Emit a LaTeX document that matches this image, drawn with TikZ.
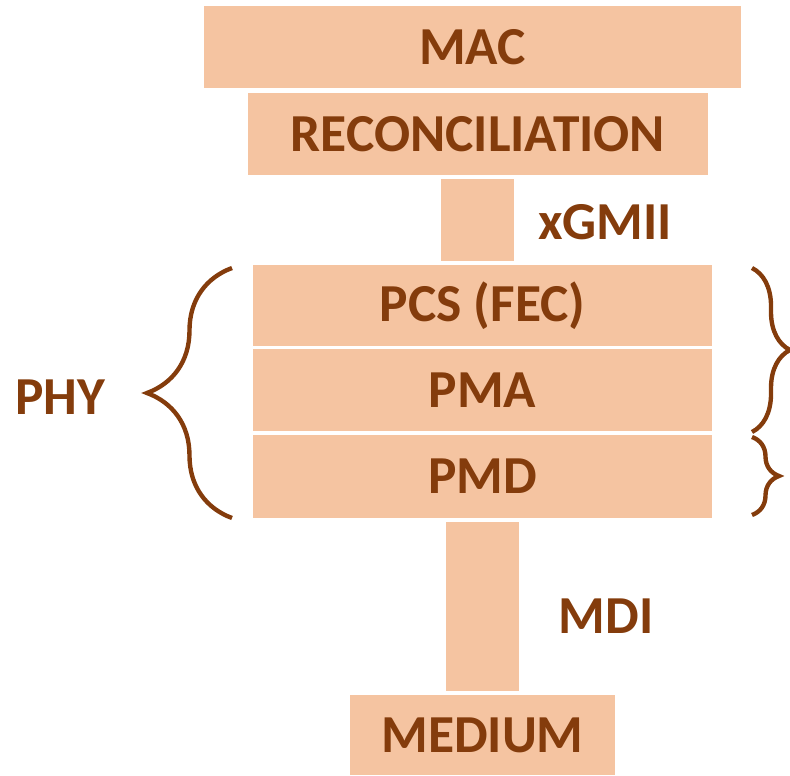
\documentclass[tikz,border=0pt]{standalone}
\usepackage{fontspec}
\setmainfont{Carlito}
\usetikzlibrary{decorations.pathreplacing}
\definecolor{layerfill}{RGB}{245,196,161}
\definecolor{layertext}{RGB}{132,60,12}
\newcommand\bigtxt{\fontsize{38}{42}\selectfont\bfseries}

\begin{document}
\begin{tikzpicture}[x=0.025cm, y=-0.025cm,
    layer/.style={rectangle, fill=layerfill, inner sep=0pt, text=layertext, font=\bigtxt},
    lbl/.style={text=layertext, font=\bigtxt},
    curly/.style={draw=layertext, line width=3.1pt, decorate}]
    \useasboundingbox (0,0) rectangle (790,776);

    %stack of layers
    \node at (472.5, 47) [layer, minimum width = 13.425cm, minimum height = 2.05cm] (mac) {MAC};
    \node at (478, 134) [layer, minimum width = 11.5cm, minimum height = 2.05cm] (rec) {RECONCILIATION};
    \node at (477.5, 220) [layer, minimum width = 1.825cm, minimum height = 2.05cm] (xgmii) {};
    \node at (482.5, 305.5) [layer, minimum width = 11.475cm, minimum height = 2.025cm] (pcs) {PCS (FEC)};
    \node at (482.5, 390) [layer, minimum width = 11.475cm, minimum height = 2.05cm] (pma) {PMA};
    \node at (482.5, 476.5) [layer, minimum width = 11.475cm, minimum height = 2.075cm] (pmd) {PMD};
    \node at (482.5, 606.5) [layer, minimum width = 1.825cm, minimum height = 4.225cm] (mdi) {};
    \node at (482.5, 735) [layer, minimum width = 6.625cm, minimum height = 2cm] (medium) {MEDIUM};

    %interface labels
    \node at (605, 222) [lbl] (xgmiilbl) {xGMII};
    \node at (606, 616) [lbl] (mdilbl) {MDI};
    \node at (60, 397) [lbl] (phy) {PHY};

    %braces
    \draw [curly, decoration={brace, amplitude=2.125cm}] (232, 518) -- (232, 268);
    \draw [curly, decoration={brace, amplitude=0.95cm}] (752, 268) -- (752, 432);
    \draw [curly, decoration={brace, amplitude=0.675cm}] (752, 437) -- (752, 515);
\end{tikzpicture}
\end{document}
